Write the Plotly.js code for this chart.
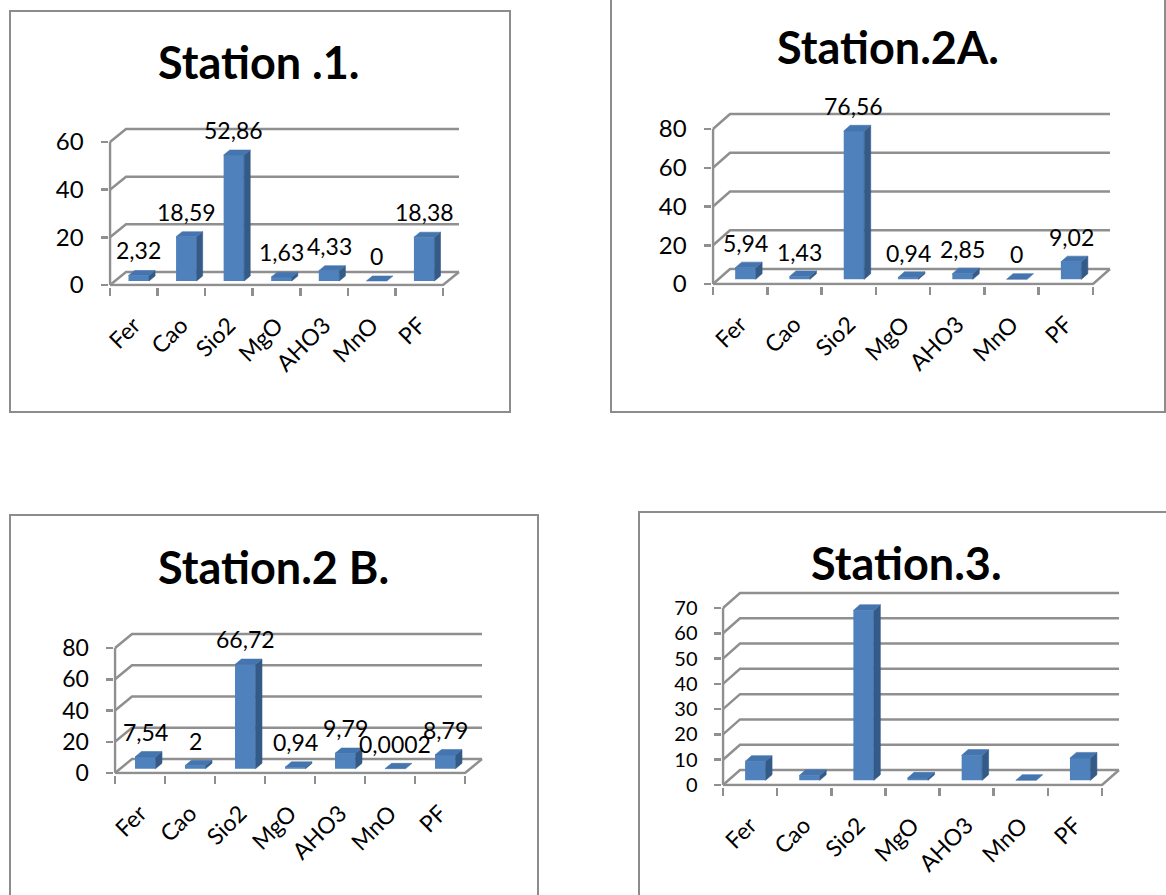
<!DOCTYPE html>
<html><head><meta charset="utf-8">
<script src="https://cdn.plot.ly/plotly-3.0.1.min.js"></script>
<style>html,body{margin:0;padding:0;background:#fff}#chart{width:1166px;height:895px}</style>
</head><body><div id="chart"></div>
<script>
// ---------- data ----------
const categories = ['Fer', 'Cao', 'Sio2', 'MgO', 'AHO3', 'MnO', 'PF'];
const station1  = [2.32, 18.59, 52.86, 1.63, 4.33, 0, 18.38];
const station2A = [5.94, 1.43, 76.56, 0.94, 2.85, 0, 9.02];
const station2B = [7.54, 2, 66.72, 0.94, 9.79, 0.0002, 8.79];
const station3  = [7.5, 1.9, 67.2, 0.9, 9.9, 0, 8.8];
const titles = ['Station .1.', 'Station.2A.', 'Station.2 B.', 'Station.3.'];
const yTicks1  = [0, 20, 40, 60];
const yTicks2A = [0, 20, 40, 60, 80];
const yTicks2B = [0, 20, 40, 60, 80];
const yTicks3  = [0, 10, 20, 30, 40, 50, 60, 70];

// ---------- layout geometry (pixels) ----------
const W = 1166, H = 895;
const panels = [
  {title: titles[0], values: station1,  ticks: yTicks1,  labels: true, tickSize: 24,
   axisX: 110, y0: 285, yTop: 142, floorRight: 443, dx: 16, dy: 13,
   box: [10, 11, 510, 412], titlePos: [259, 62]},
  {title: titles[1], values: station2A, ticks: yTicks2A, labels: true, tickSize: 24,
   axisX: 713, y0: 284, yTop: 129, floorRight: 1093, dx: 17, dy: 15,
   box: [611, -10, 1165, 412], titlePos: [888, 47]},
  {title: titles[2], values: station2B, ticks: yTicks2B, labels: true, tickSize: 23,
   axisX: 115, y0: 773, yTop: 648, floorRight: 465, dx: 17, dy: 14,
   box: [10, 515, 538, 905], titlePos: [273, 567]},
  {title: titles[3], values: station3,  ticks: yTicks3,  labels: false, tickSize: 20,
   axisX: 723, y0: 785, yTop: 608, floorRight: 1102, dx: 17, dy: 15,
   box: [639, 512, 1175, 905], titlePos: [906, 563]}
];

const GRID = '#8f8f8f';
const FRONT = '#4F81BD', TOP = '#4575AE', SIDE = '#345A88';
const FONT = 'Lato, "Open Sans", sans-serif';
const BAR_PX = 20.5, FRONT_F = 0.31, DEPTH_F = 0.38;

const traces = [];
const layout = {
  width: W, height: H, margin: {l: 0, r: 0, t: 0, b: 0},
  paper_bgcolor: '#fff', plot_bgcolor: 'rgba(0,0,0,0)',
  showlegend: false, shapes: [], annotations: [],
  font: {family: FONT, color: '#000'}
};

function fmt(v) { return String(v).replace('.', ','); }

panels.forEach((p, k) => {
  const b = 2 * k + 1, o = 2 * k + 2;
  const xb = b === 1 ? 'x' : 'x' + b, yb = b === 1 ? 'y' : 'y' + b;
  const xo = 'x' + o, yo = 'y' + o;
  const n = categories.length;
  const tmax = p.ticks[p.ticks.length - 1];
  const ppc = (p.floorRight - p.axisX) / n;
  const ppu = (p.y0 - p.yTop) / tmax;
  const ddx = p.dx / ppc, ddy = p.dy / ppu;
  const pad = 1.5;
  const xr = [-pad / ppc, n + ddx + 1.5 / ppc];
  const yr = [-pad / ppu, tmax + (p.dy + 4) / ppu];
  const xdom = [(p.axisX + xr[0] * ppc) / W, (p.axisX + xr[1] * ppc) / W];
  const ydom = [1 - (p.y0 - yr[0] * ppu) / H, 1 - (p.y0 - yr[1] * ppu) / H];

  // base axes: walls, ticks
  layout['xaxis' + (b === 1 ? '' : b)] = {
    domain: xdom, range: xr, anchor: yb, fixedrange: true,
    tickmode: 'array', tickvals: categories.map((c, i) => i).concat([n]),
    showticklabels: false, ticks: 'outside', ticklen: 8, tickwidth: 2.5, tickcolor: GRID,
    showgrid: false, zeroline: false, showline: false
  };
  layout['yaxis' + (b === 1 ? '' : b)] = {
    domain: ydom, range: yr, anchor: xb, fixedrange: true,
    tickmode: 'array', tickvals: p.ticks, ticks: 'outside', ticklen: 7, tickwidth: 2.5,
    tickcolor: GRID, ticklabelstandoff: 12,
    tickfont: {family: FONT, size: p.tickSize, color: '#000'},
    showgrid: false, zeroline: false, showline: false
  };
  // overlay axes: bars and category labels
  layout['xaxis' + o] = {
    overlaying: xb, anchor: yo, range: xr, fixedrange: true,
    tickmode: 'array', tickvals: categories.map((c, i) => i + 0.5), ticktext: categories,
    tickangle: -45, ticks: '', ticklabelstandoff: 20,
    tickfont: {family: FONT, size: 23, color: '#000'},
    showgrid: false, zeroline: false, showline: false
  };
  layout['yaxis' + o] = {
    overlaying: yb, anchor: xo, range: yr, fixedrange: true, visible: false
  };

  // back wall gridlines, floor and y axis line
  const gx = [], gy = [];
  p.ticks.forEach(v => { gx.push(0, ddx, n + ddx, null); gy.push(v, v + ddy, v + ddy, null); });
  gx.push(0, n, n + ddx, null); gy.push(0, 0, ddy, null);
  gx.push(0, 0); gy.push(0, tmax);
  traces.push({type: 'scatter', mode: 'lines', x: gx, y: gy, xaxis: xb, yaxis: yb,
    line: {color: GRID, width: 2.5}, hoverinfo: 'skip', connectgaps: false});

  // bars (front faces)
  const bw = BAR_PX / ppc;
  const base = FRONT_F * ddy;
  const cx = categories.map((c, i) => i + 0.5 + FRONT_F * ddx);
  traces.push({type: 'bar', x: cx, y: p.values, base: base, width: bw,
    xaxis: xo, yaxis: yo, marker: {color: FRONT, line: {width: 0}}, hoverinfo: 'skip'});

  // top and side faces
  const s = DEPTH_F * ddx, t = DEPTH_F * ddy;
  const tx = [], ty = [], sx = [], sy = [];
  p.values.forEach((v, i) => {
    const l = cx[i] - bw / 2, r = cx[i] + bw / 2, yt = base + v;
    tx.push(l, r, r + s, l + s, l, null); ty.push(yt, yt, yt + t, yt + t, yt, null);
    if (v > 0.5) {
      sx.push(r, r + s, r + s, r, r, null); sy.push(base, base + t, yt + t, yt, base, null);
    }
  });
  traces.push({type: 'scatter', mode: 'lines', x: sx, y: sy, xaxis: xo, yaxis: yo,
    fill: 'toself', fillcolor: SIDE, line: {color: SIDE, width: 0.6}, hoverinfo: 'skip'});
  traces.push({type: 'scatter', mode: 'lines', x: tx, y: ty, xaxis: xo, yaxis: yo,
    fill: 'toself', fillcolor: TOP, line: {color: TOP, width: 0.6}, hoverinfo: 'skip'});

  // data labels
  if (p.labels) {
    p.values.forEach((v, i) => {
      layout.annotations.push({xref: xo, yref: yo, x: cx[i], y: base + v, yshift: 25,
        text: fmt(v), showarrow: false, font: {family: FONT, size: 23, color: '#000'}});
    });
  }

  // title
  layout.annotations.push({xref: 'paper', yref: 'paper', x: p.titlePos[0] / W, y: 1 - p.titlePos[1] / H,
    xanchor: 'center', yanchor: 'middle', text: p.title, showarrow: false,
    font: {family: FONT, size: 45, weight: 700, color: '#000'}});

  // chart frame
  layout.shapes.push({type: 'rect', xref: 'paper', yref: 'paper', layer: 'below',
    x0: p.box[0] / W, x1: p.box[2] / W, y0: 1 - p.box[3] / H, y1: 1 - p.box[1] / H,
    line: {color: '#8c8c8c', width: 2}, fillcolor: 'rgba(0,0,0,0)'});
});

Plotly.newPlot('chart', traces, layout, {staticPlot: true, displayModeBar: false});
</script>
</body></html>
